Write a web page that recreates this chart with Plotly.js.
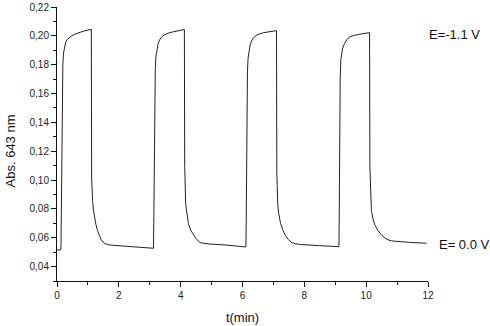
<!DOCTYPE html>
<html>
<head>
<meta charset="utf-8">
<script src="https://cdn.plot.ly/plotly-3.0.1.min.js"></script>
<style>html,body{margin:0;padding:0;background:#fff;}#chart{width:490px;height:326px;}</style>
</head>
<body>
<div id="chart"></div>
<script>
// time (min) and absorbance at 643 nm
const timeMin = [
  0.00, 0.12, 0.13, 0.15, 0.17, 0.19, 0.21, 0.24, 0.28, 0.33, 0.40, 0.48, 0.58, 0.70, 0.85, 1.00, 1.11,
  1.12, 1.13, 1.15, 1.18, 1.22, 1.26, 1.31, 1.36, 1.42, 1.48, 1.55, 1.63, 1.75, 2.10, 2.53, 2.90, 3.12,
  3.13, 3.14, 3.16, 3.18, 3.20, 3.23, 3.27, 3.32, 3.38, 3.46, 3.56, 3.70, 3.85, 4.00, 4.12,
  4.13, 4.14, 4.16, 4.19, 4.25, 4.33, 4.41, 4.50, 4.63, 4.75, 4.90, 5.43, 6.11,
  6.12, 6.13, 6.14, 6.16, 6.18, 6.21, 6.25, 6.30, 6.36, 6.44, 6.54, 6.68, 6.84, 7.00, 7.10,
  7.11, 7.12, 7.14, 7.17, 7.23, 7.31, 7.39, 7.48, 7.60, 7.72, 7.88, 8.50, 9.12,
  9.13, 9.14, 9.16, 9.18, 9.20, 9.24, 9.30, 9.37, 9.46, 9.60, 9.78, 9.95, 10.11,
  10.12, 10.14, 10.17, 10.22, 10.28, 10.38, 10.49, 10.60, 10.71, 10.82, 10.92, 11.40, 11.95
];
const absorbance = [
  0.0515, 0.0515, 0.056, 0.110, 0.160, 0.180, 0.1880, 0.1925, 0.1955, 0.1975, 0.1990, 0.2000, 0.2012, 0.2022, 0.2032, 0.2040, 0.2045,
  0.102, 0.094, 0.086, 0.079, 0.0735, 0.0690, 0.0650, 0.0617, 0.0590, 0.0572, 0.0560, 0.0553, 0.0549, 0.0543, 0.0536, 0.0531, 0.0527,
  0.070, 0.110, 0.160, 0.178, 0.1854, 0.1905, 0.1945, 0.1972, 0.1992, 0.2005, 0.2016, 0.2025, 0.2032, 0.2038, 0.2044,
  0.110, 0.092, 0.084, 0.0790, 0.0700, 0.0650, 0.0620, 0.0592, 0.0566, 0.0560, 0.0557, 0.0550, 0.0536,
  0.070, 0.110, 0.150, 0.175, 0.1845, 0.1900, 0.1940, 0.1968, 0.1988, 0.2002, 0.2013, 0.2022, 0.2028, 0.2033, 0.2036,
  0.105, 0.090, 0.083, 0.0770, 0.0700, 0.0650, 0.0615, 0.0588, 0.0566, 0.0558, 0.0553, 0.0545, 0.0538,
  0.080, 0.130, 0.170, 0.1835, 0.1877, 0.1915, 0.1947, 0.1972, 0.1992, 0.2003, 0.2011, 0.2017, 0.2022,
  0.109, 0.090, 0.079, 0.0730, 0.0689, 0.0650, 0.0620, 0.0600, 0.0585, 0.0579, 0.0576, 0.0568, 0.0562
];
const xTicks = [0, 2, 4, 6, 8, 10, 12];
const yTicks = [0.04, 0.06, 0.08, 0.10, 0.12, 0.14, 0.16, 0.18, 0.20, 0.22];
const xTitle = 't(min)';
const yTitle = 'Abs. 643 nm';
const labelHigh = 'E=-1.1 V';
const labelLow = 'E= 0.0 V';

const font = 'Liberation Sans, Arial, sans-serif';
const trace = {
  x: timeMin, y: absorbance, type: 'scatter', mode: 'lines',
  line: {color: '#222', width: 1, shape: 'linear'},
  hoverinfo: 'skip', showlegend: false
};
const layout = {
  width: 490, height: 326,
  margin: {l: 57, r: 62, t: 7, b: 45},
  paper_bgcolor: '#fff', plot_bgcolor: '#fff',
  separators: ',.',
  font: {family: font, size: 10, color: '#222'},
  xaxis: {
    range: [0, 12], tickvals: xTicks, ticktext: xTicks.map(String),
    showgrid: false, zeroline: false, showline: true, linecolor: '#111', linewidth: 1,
    ticks: 'outside', ticklen: 5, tickwidth: 1, tickcolor: '#111',
    minor: {tickvals: [1, 3, 5, 7, 9, 11], ticks: 'outside', ticklen: 3, tickcolor: '#111', showgrid: false},
    tickfont: {family: font, size: 10, color: '#222'},
    title: {text: xTitle, font: {family: font, size: 13, color: '#111'}, standoff: 12}
  },
  yaxis: {
    range: [0.03, 0.22], tickvals: yTicks, tickformat: '.2f',
    showgrid: false, zeroline: false, showline: true, linecolor: '#111', linewidth: 1,
    ticks: 'outside', ticklen: 5, tickwidth: 1, tickcolor: '#111',
    minor: {dtick: 0.01, ticks: 'outside', ticklen: 3, tickcolor: '#111', showgrid: false},
    tickfont: {family: font, size: 10, color: '#222'}
  },
  annotations: [
    {text: yTitle, textangle: -90, xref: 'paper', yref: 'paper', x: -0.125, y: 0.475, xanchor: 'center', yanchor: 'middle', showarrow: false, font: {family: font, size: 13, color: '#111'}},
    {text: labelHigh, xref: 'paper', yref: 'paper', x: 1.0, y: 0.899, xanchor: 'left', yanchor: 'middle', xshift: -1, showarrow: false, font: {family: font, size: 13, color: '#111'}},
    {text: labelLow, xref: 'paper', yref: 'paper', x: 1.0, y: 0.135, xanchor: 'left', yanchor: 'middle', xshift: 9, showarrow: false, font: {family: font, size: 13, color: '#111'}}
  ]
};
Plotly.newPlot('chart', [trace], layout, {staticPlot: true, displayModeBar: false});
</script>
</body>
</html>
